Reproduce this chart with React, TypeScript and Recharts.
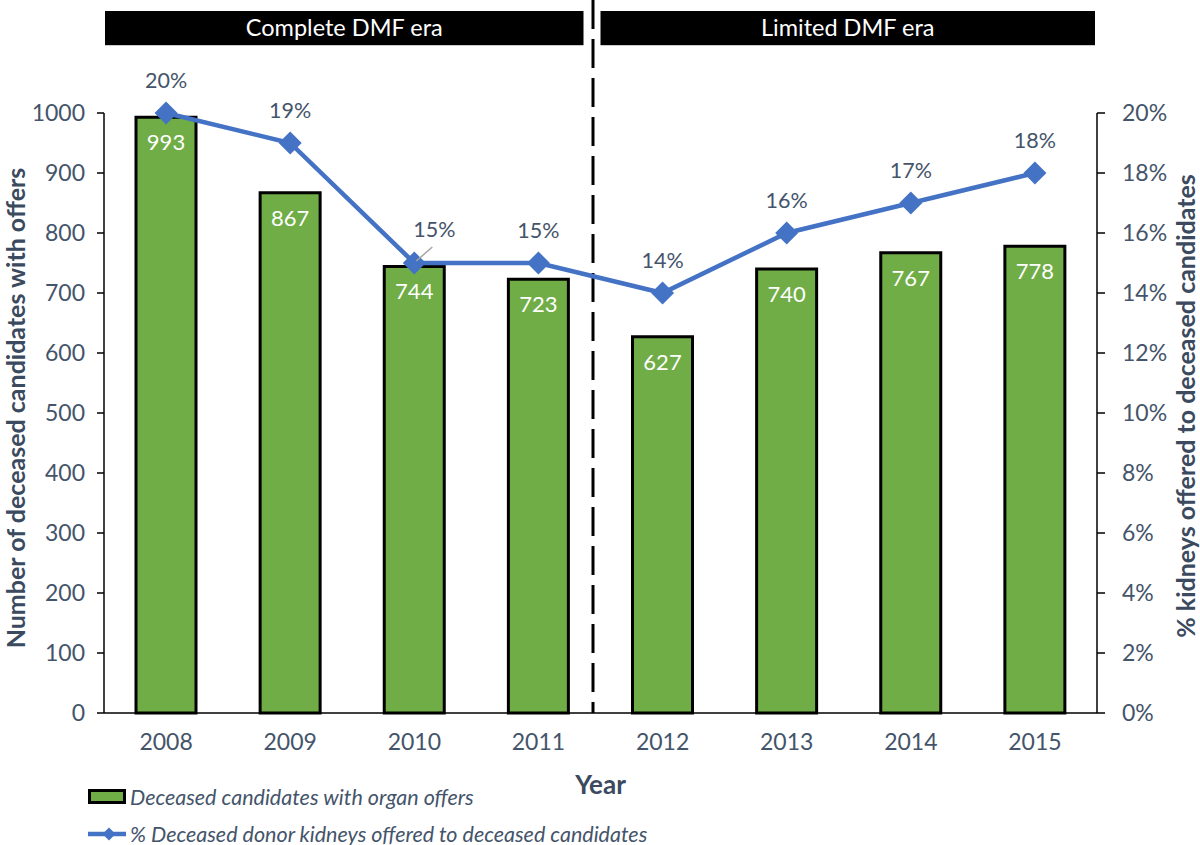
import {
  ComposedChart,
  Bar,
  Line,
  XAxis,
  YAxis,
  LabelList,
  Legend,
  ReferenceArea,
  ReferenceLine,
} from 'recharts'

const years = ['2008', '2009', '2010', '2011', '2012', '2013', '2014', '2015']
const candidatesWithOffers = [993, 867, 744, 723, 627, 740, 767, 778]
const pctKidneysOffered = [20, 19, 15, 15, 14, 16, 17, 18]
const leftTicks = [0, 100, 200, 300, 400, 500, 600, 700, 800, 900, 1000]
const rightTicks = [0, 2, 4, 6, 8, 10, 12, 14, 16, 18, 20]

const FONT = 'Lato, "Open Sans", sans-serif'
const TEXT = '#44546A'
const TITLE = '#3B4A5E'
const GREEN = '#70AD47'
const BLUE = '#4472C4'

const data = years.map((year, i) => ({
  year,
  candidates: candidatesWithOffers[i],
  pct: pctKidneysOffered[i],
}))

function Diamond({ cx, cy }: { cx?: number; cy?: number }) {
  if (cx == null || cy == null) return null
  const r = 11.5
  return (
    <path
      d={`M${cx},${cy - r} L${cx + r},${cy} L${cx},${cy + r} L${cx - r},${cy} Z`}
      fill={BLUE}
    />
  )
}

// eslint-disable-next-line @typescript-eslint/no-explicit-any
function BarValue(props: any) {
  const { x, y, width, value } = props
  return (
    <text
      x={x + width / 2}
      y={y + 25}
      dy="0.35em"
      textAnchor="middle"
      fill="#fff"
      fontSize={22}
      fontFamily={FONT}
    >
      {value}
    </text>
  )
}

// eslint-disable-next-line @typescript-eslint/no-explicit-any
function PctValue(props: any) {
  const { x, y, value, index } = props
  // 2010 label was nudged aside in the original, with a leader line
  if (index === 2) {
    return (
      <g>
        <line x1={x + 2} y1={y - 2} x2={x + 18} y2={y - 16} stroke="#A5A5A5" strokeWidth={1.5} />
        <text x={x + 20} y={y - 34} dy="0.35em" textAnchor="middle" fill={TEXT} fontSize={21.5} fontFamily={FONT}>
          {`${value}%`}
        </text>
      </g>
    )
  }
  return (
    <text x={x} y={y - 33} dy="0.35em" textAnchor="middle" fill={TEXT} fontSize={21.5} fontFamily={FONT}>
      {`${value}%`}
    </text>
  )
}

// black era banner; trimLeft/trimRight leave the gap around the divider
function eraBanner(text: string, trimLeft: number, trimRight: number) {
  // eslint-disable-next-line @typescript-eslint/no-explicit-any
  return (p: any) => {
    const x = p.x + trimLeft
    const w = p.width - trimLeft - trimRight
    return (
      <g>
        <rect x={x} y={p.y} width={w} height={p.height} fill="#000" />
        <text
          x={x + w / 2}
          y={p.y + p.height / 2}
          dy="0.35em"
          textAnchor="middle"
          fill="#fff"
          fontSize={23.5}
          fontFamily={FONT}
        >
          {text}
        </text>
      </g>
    )
  }
}

// eslint-disable-next-line @typescript-eslint/no-explicit-any
function EraDivider(p: any) {
  const x = p.x1 - 7.5
  return (
    <line
      x1={x}
      y1={0}
      x2={x}
      y2={Math.max(p.y1, p.y2)}
      stroke="#000"
      strokeWidth={3}
      strokeDasharray="29 10"
    />
  )
}

function ChartLegend() {
  return (
    <div style={{ fontFamily: FONT, fontStyle: 'italic', fontSize: 21.5, color: TEXT, lineHeight: '24px' }}>
      <div style={{ display: 'flex', alignItems: 'center', height: 24, marginBottom: 13 }}>
        <svg width={42} height={16} style={{ display: 'block' }}>
          <rect x={1.5} y={1.5} width={35} height={12} fill={GREEN} stroke="#000" strokeWidth={3} />
        </svg>
        <span>Deceased candidates with organ offers</span>
      </div>
      <div style={{ display: 'flex', alignItems: 'center', height: 24 }}>
        <svg width={42} height={16} style={{ display: 'block' }}>
          <line x1={0} y1={8} x2={38} y2={8} stroke={BLUE} strokeWidth={4.5} />
          <path d="M21,1.5 L27.5,8 L21,14.5 L14.5,8 Z" fill={BLUE} />
        </svg>
        <span>% Deceased donor kidneys offered to deceased candidates</span>
      </div>
    </div>
  )
}

export default function App() {
  return (
    <div style={{ position: 'absolute', left: 0, top: 0, width: 1200, height: 845, background: '#fff' }}>
      <ComposedChart
        width={1200}
        height={845}
        data={data}
        margin={{ top: 113, right: 13, bottom: 92, left: 14 }}
      >
        <XAxis
          dataKey="year"
          height={40}
          tickLine={false}
          axisLine={{ stroke: '#000', strokeWidth: 1.5 }}
          tickMargin={15}
          tick={{ fill: TEXT, fontSize: 23, fontFamily: FONT }}
          label={{
            value: 'Year',
            position: 'bottom',
            offset: 23,
            fill: TITLE,
            fontSize: 26,
            fontWeight: 700,
            fontFamily: FONT,
          }}
        />
        <YAxis
          yAxisId="left"
          width={90}
          domain={[0, 1000]}
          ticks={leftTicks}
          interval={0}
          tickSize={7}
          tickMargin={12}
          axisLine={{ stroke: '#000', strokeWidth: 1.5 }}
          tickLine={{ stroke: '#000', strokeWidth: 1.5 }}
          tick={{ fill: TEXT, fontSize: 23, fontFamily: FONT }}
          label={{
            value: 'Number of deceased candidates with offers',
            angle: -90,
            position: 'center',
            dx: -43,
            dy: -5,
            fill: TITLE,
            fontSize: 25,
            fontWeight: 700,
            fontFamily: FONT,
          }}
        />
        <YAxis
          yAxisId="right"
          orientation="right"
          width={90}
          domain={[0, 20]}
          ticks={rightTicks}
          interval={0}
          tickSize={8}
          tickMargin={17}
          tickFormatter={(v) => `${v}%`}
          axisLine={{ stroke: '#000', strokeWidth: 1.5 }}
          tickLine={{ stroke: '#000', strokeWidth: 1.5 }}
          tick={{ fill: TEXT, fontSize: 23, fontFamily: FONT }}
          label={{
            value: '% kidneys offered to deceased candidates',
            angle: -90,
            position: 'center',
            dx: 44,
            dy: -7,
            fill: TITLE,
            fontSize: 25,
            fontWeight: 700,
            fontFamily: FONT,
          }}
        />

        {/* era banners above the plot and the dashed divider */}
        <ReferenceArea
          yAxisId="left"
          x1="2008"
          x2="2011"
          y1={1113}
          y2={1170}
          ifOverflow="visible"
          shape={eraBanner('Complete DMF era', 1, 17)}
        />
        <ReferenceArea
          yAxisId="left"
          x1="2012"
          x2="2015"
          y1={1113}
          y2={1170}
          ifOverflow="visible"
          shape={eraBanner('Limited DMF era', 0, 2)}
        />
        <ReferenceLine
          yAxisId="left"
          x="2012"
          position="start"
          ifOverflow="visible"
          shape={EraDivider}
        />

        <Bar
          yAxisId="left"
          dataKey="candidates"
          name="Deceased candidates with organ offers"
          fill={GREEN}
          stroke="#000"
          strokeWidth={3}
          barSize={60}
          isAnimationActive={false}
        >
          <LabelList dataKey="candidates" content={BarValue} />
        </Bar>
        <Line
          yAxisId="right"
          dataKey="pct"
          name="% Deceased donor kidneys offered to deceased candidates"
          stroke={BLUE}
          strokeWidth={4.5}
          dot={<Diamond />}
          activeDot={false}
          isAnimationActive={false}
        >
          <LabelList dataKey="pct" content={PctValue} />
        </Line>

        <Legend
          layout="vertical"
          align="center"
          verticalAlign="middle"
          content={() => <ChartLegend />}
          wrapperStyle={{ left: 88, top: 785, width: 760, height: 'auto' }}
        />
      </ComposedChart>
    </div>
  )
}
